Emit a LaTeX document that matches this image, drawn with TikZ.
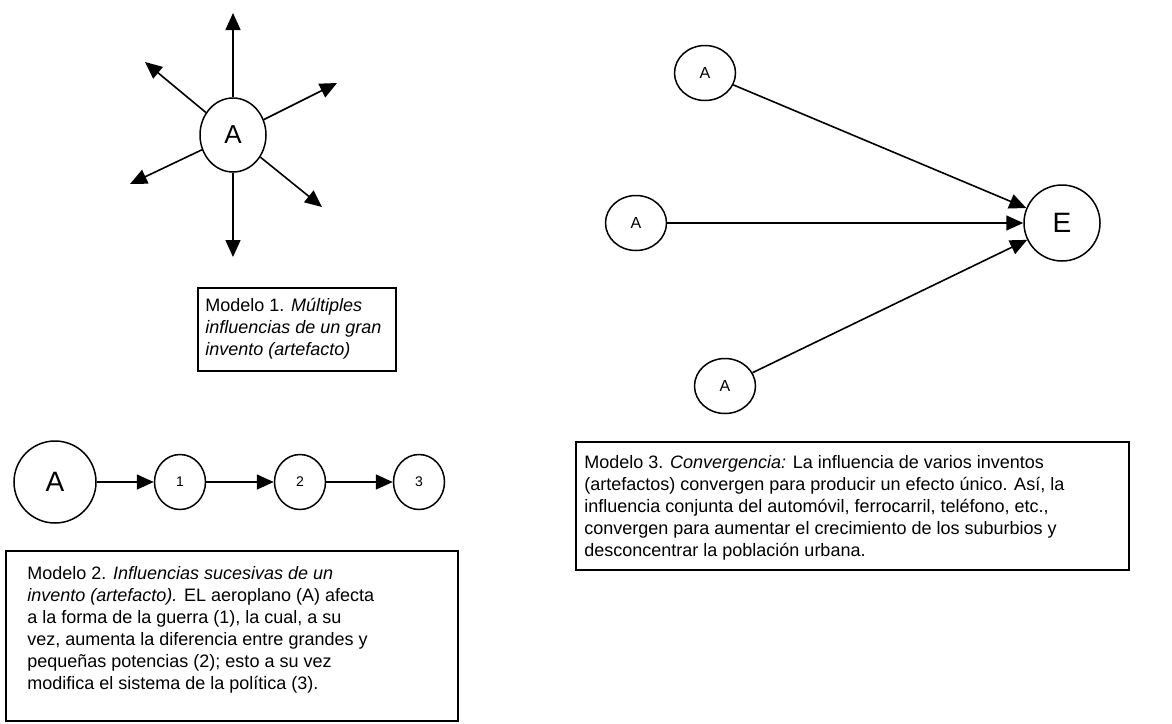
\documentclass[tikz,border=0pt]{standalone}
\usepackage{fontspec}
\setmainfont{Liberation Sans}
\usetikzlibrary{arrows.meta,shapes.geometric}
\tikzset{
  bubble/.style={ellipse,draw,line width=0.75pt,inner sep=0pt},
  influence/.style={-{Triangle[length=8.5pt,width=7.5pt]},line width=0.8pt},
  frame/.style={rectangle,draw,line width=0.8pt,anchor=north west,inner sep=0pt},
  caption/.style={anchor=north west,align=left,inner sep=0pt,font=\fontsize{9}{11}\selectfont}
}
\begin{document}
\begin{tikzpicture}[x=0.5pt,y=-0.5pt]
	\useasboundingbox (0,0) rectangle (1172,723);
	
	% modelo 1
	\node(a) at (233,135)[bubble,minimum width=33pt,minimum height=37pt,font=\fontsize{13}{15}\selectfont]{A};
	\coordinate(n) at (233,13);
	\coordinate(s) at (233,257);
	\coordinate(nw) at (145,62);
	\coordinate(ne) at (337,83);
	\coordinate(sw) at (130,184);
	\coordinate(se) at (322,207);
		\draw[influence] (a) -- (n);
		\draw[influence] (a) -- (s);
		\draw[influence] (a) -- (nw);
		\draw[influence] (a) -- (ne);
		\draw[influence] (a) -- (sw);
		\draw[influence] (a) -- (se);
	\node(f1) at (197,287)[frame,minimum width=99pt,minimum height=41.5pt]{};
	\node(c1) at (205,298)[caption]{Modelo 1. \textit{Múltiples}\\ \textit{influencias de un gran}\\ \textit{invento (artefacto)}};
	
	% modelo 2
	\node(b) at (55,482)[bubble,minimum size=41pt,font=\fontsize{14}{16}\selectfont]{A};
	\node(b1) at (180,482)[bubble,minimum width=25.5pt,minimum height=27.5pt,font=\fontsize{7}{8}\selectfont]{1};
	\node(b2) at (300,482)[bubble,minimum width=25.5pt,minimum height=27.5pt,font=\fontsize{7}{8}\selectfont]{2};
	\node(b3) at (419,482)[bubble,minimum width=25.5pt,minimum height=27.5pt,font=\fontsize{7}{8}\selectfont]{3};
		\draw[influence] (b) -- (b1);
		\draw[influence] (b1) -- (b2);
		\draw[influence] (b2) -- (b3);
	\node(f2) at (5,550)[frame,minimum width=226pt,minimum height=85pt]{};
	\node(c2) at (27,566)[caption]{Modelo 2. \textit{Influencias sucesivas de un}\\ \textit{invento (artefacto).} EL aeroplano (A) afecta\\ a la forma de la guerra (1), la cual, a su\\ vez, aumenta la diferencia entre grandes y\\ pequeñas potencias (2); esto a su vez\\ modifica el sistema de la política (3).};
	
	% modelo 3
	\node(e) at (1062,223)[bubble,minimum size=38pt,font=\fontsize{14}{16}\selectfont]{E};
	\node(t1) at (705,73)[bubble,minimum width=30.5pt,minimum height=27.5pt,font=\fontsize{8}{9}\selectfont]{A};
	\node(t2) at (636,223)[bubble,minimum width=30.5pt,minimum height=27.5pt,font=\fontsize{8}{9}\selectfont]{A};
	\node(t3) at (725,386)[bubble,minimum width=30.5pt,minimum height=27.5pt,font=\fontsize{8}{9}\selectfont]{A};
		\draw[influence] (t1) -- (e);
		\draw[influence] (t2) -- (e);
		\draw[influence] (t3) -- (e);
	\node(f3) at (575,441)[frame,minimum width=276.5pt,minimum height=64pt]{};
	\node(c3) at (584,455)[caption]{Modelo 3. \textit{Convergencia:} La influencia de varios inventos\\ (artefactos) convergen para producir un efecto único. Así, la\\ influencia conjunta del automóvil, ferrocarril, teléfono, etc.,\\ convergen para aumentar el crecimiento de los suburbios y\\ desconcentrar la población urbana.};
	
\end{tikzpicture}
\end{document}
